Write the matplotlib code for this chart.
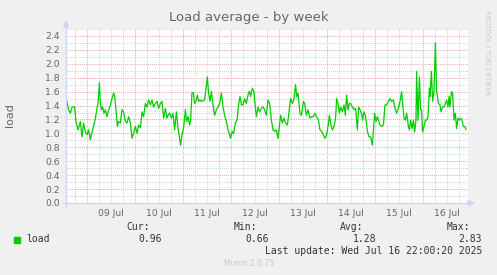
import matplotlib
matplotlib.use("Agg")
import matplotlib.pyplot as plt
from matplotlib.lines import Line2D
from matplotlib.patches import Rectangle, Polygon

# hours since Jul 8 14:00 and the load average
hours = [
    0.0, 0.8, 1.7, 2.5, 3.8, 4.5, 5.5, 6.7, 7.5, 8.3, 9.2, 10.0, 10.8, 11.7, 12.5, 13.3,
    14.2, 15.0, 15.5, 16.2, 16.7, 17.2, 17.8, 18.5, 19.2, 20.0, 20.8, 21.7, 22.5, 23.3,
    23.8, 24.5, 25.2, 25.8, 26.7, 27.5, 28.3, 29.2, 30.0, 30.8, 31.7, 32.5, 33.3, 34.2,
    35.0, 35.8, 36.7, 37.5, 38.3, 39.2, 40.0, 40.8, 41.7, 42.5, 43.3, 44.2, 45.0, 45.8,
    46.7, 47.5, 48.3, 49.2, 50.0,
    50.5, 51.3, 52.2, 53.0, 53.8, 54.7, 55.5, 56.3, 56.8, 57.5, 58.3, 59.2, 59.8, 60.5,
    61.3, 61.8, 62.5, 63.2, 63.8, 64.7, 65.2, 65.8, 66.5, 67.2, 68.8, 69.7, 70.2, 70.8,
    71.5, 72.2, 73.0, 73.8, 74.7, 75.5, 76.3, 77.2, 78.0, 78.8, 79.7, 80.5, 81.3, 81.8,
    82.5, 83.3, 84.2, 85.0, 85.8, 86.5, 87.2, 88.0, 88.8, 89.7, 90.5, 91.2, 91.8, 92.7,
    93.5, 94.2, 94.7, 95.5, 96.3, 97.2, 98.0, 98.8, 99.7, 100.5, 101.3, 102.2, 103.0,
    103.8, 104.7,
    105.5, 106.2, 106.8, 107.7, 108.5, 109.3, 110.2, 111.0, 111.8, 112.7, 113.5, 114.3,
    114.8, 115.5, 116.5, 117.2, 118.2, 118.8, 119.7, 120.5, 121.5, 122.3, 123.2, 124.0,
    124.8, 125.7, 126.5, 127.3, 128.2, 129.0, 129.8, 130.5, 131.2, 131.8, 132.7, 133.5,
    134.3, 134.8, 135.5, 136.2, 136.8, 137.7, 138.5, 139.2, 139.8, 140.5, 141.2, 141.8,
    142.7, 143.5, 144.3, 145.2, 145.8, 146.5, 147.2, 147.8, 148.5, 149.3, 150.2, 151.0,
    151.8, 152.7, 153.2, 153.8, 154.5, 155.2, 156.0,
    156.5, 157.3, 158.2, 159.0, 159.8, 160.7, 161.5, 162.3, 163.2, 164.0, 164.8, 165.7,
    166.5, 167.3, 167.8, 168.5, 169.2, 169.8, 170.7, 171.2, 171.8, 172.5, 173.2, 173.8,
    174.5, 174.8, 175.5, 176.2, 176.8, 177.3, 177.8, 178.5, 179.2, 179.8, 180.5, 181.2,
    181.5, 182.2, 182.8, 183.5, 184.2, 184.8, 185.7, 186.5, 187.0, 187.8, 188.5, 189.2,
    189.8, 190.5, 191.0, 191.5, 192.2, 192.8, 193.5, 194.2, 194.8, 195.5, 196.2, 196.8,
    197.5, 198.2, 198.8, 199.5,
]
load = [
    1.46, 1.34, 1.29, 1.38, 1.38, 1.17, 1.05, 1.17, 0.95, 1.15, 1.02, 0.98, 1.05, 0.91, 1.02, 1.10,
    1.22, 1.36, 1.43, 1.73, 1.43, 1.34, 1.38, 1.29, 1.34, 1.24, 1.34, 1.41, 1.50, 1.58,
    1.55, 1.34, 1.10, 1.17, 1.15, 1.34, 1.31, 1.17, 1.15, 1.24, 1.15, 0.93, 1.00, 1.10,
    1.00, 1.12, 1.08, 1.31, 1.24, 1.43, 1.38, 1.48, 1.41, 1.48, 1.38, 1.43, 1.46, 1.36,
    1.43, 1.46, 1.22, 1.36, 1.22,
    1.26, 1.29, 1.22, 1.29, 1.05, 1.31, 1.08, 0.93, 0.83, 0.98, 1.08, 1.34, 1.17, 1.24,
    1.12, 1.19, 1.58, 1.59, 1.43, 1.48, 1.55, 1.46, 1.48, 1.46, 1.48, 1.70, 1.81, 1.58,
    1.46, 1.60, 1.41, 1.26, 1.34, 1.38, 1.43, 1.58, 1.38, 1.26, 1.17, 1.05, 0.98, 0.93,
    1.03, 1.00, 1.15, 1.19, 1.41, 1.53, 1.41, 1.41, 1.50, 1.43, 1.55, 1.61, 1.53, 1.65,
    1.60, 1.36, 1.24, 1.38, 1.31, 1.36, 1.38, 1.34, 1.26, 1.48, 1.43, 1.19, 1.05,
    1.03, 1.05,
    0.93, 1.10, 1.26, 1.15, 1.22, 1.15, 1.12, 1.31, 1.50, 1.43, 1.50, 1.70,
    1.53, 1.58, 1.29, 1.26, 1.46, 1.43, 1.26, 1.34, 1.22, 1.24, 1.24, 1.29,
    1.24, 1.19, 1.05, 1.03, 0.98, 0.93, 0.98, 1.10, 1.26, 1.15, 1.05, 1.10,
    1.22, 1.50, 1.43, 1.29, 1.38, 1.31, 1.41, 1.26, 1.55, 1.34, 1.43, 1.43,
    1.38, 1.34, 1.36, 1.05, 1.38, 1.34, 1.29, 1.19, 1.31, 1.24, 1.03, 0.95,
    0.95, 0.83, 1.03, 1.29, 1.17, 1.24, 1.17,
    1.12, 1.10, 1.12, 1.41, 1.41, 1.46, 1.50, 1.46, 1.48, 1.36, 1.29, 1.36,
    1.46, 1.60, 1.43, 1.22, 1.19, 1.29, 1.10, 1.05, 1.19, 1.07, 1.19, 1.02,
    1.19, 1.89, 1.19, 1.81, 1.34, 1.34, 1.02, 1.10, 1.19, 1.19, 1.24, 1.65,
    1.53, 1.89, 1.46, 1.60, 2.30, 1.62, 1.43, 1.41, 1.31, 1.38, 1.38, 1.43,
    1.48, 1.38, 1.53, 1.38, 1.60, 1.58, 1.19, 1.29, 1.07, 1.22, 1.19, 1.22,
    1.19, 1.10, 1.10, 1.06,
]

day_labels = ["09 Jul", "10 Jul", "11 Jul", "12 Jul", "13 Jul", "14 Jul", "15 Jul", "16 Jul"]
stat_names = ["Cur:", "Min:", "Avg:", "Max:"]
stat_values = ["0.96", "0.66", "1.28", "2.83"]

W, H = 497, 275
FONT = "#666666"
AXIS = "#CFD6F8"


def fx(x):
    return x / W


def fy(y):
    return 1 - y / H


fig = plt.figure(figsize=(W / 100, H / 100), dpi=100, facecolor="#F0F0F0")
ax = fig.add_axes([fx(66), fy(203), (468 - 66) / W, (203 - 29) / H])
ax.set_facecolor("white")
ax.set_xlim(-0.5, 200.5)
ax.set_ylim(0, 2.5)
for s in ax.spines.values():
    s.set_visible(False)

# grid: minor gray dotted, major red dotted
dot = (0, (1, 1))
for k in range(34):
    h = 4 + 6 * k
    if h > 200:
        break
    if (h - 10) % 24 == 0:
        ax.axvline(h, color="#F0A8A8", lw=0.7, ls=dot, zorder=1)
    else:
        ax.axvline(h, color="#D4D4D4", lw=0.7, ls=dot, zorder=1)
for i in range(1, 26):
    v = i * 0.1
    if i % 2 == 0:
        ax.axhline(v, color="#F0A8A8", lw=0.7, ls=dot, zorder=1)
    else:
        ax.axhline(v, color="#D4D4D4", lw=0.7, ls=dot, zorder=1)

ax.plot(hours, load, color="#00CC00", lw=0.9, zorder=3)

ax.set_yticks([i * 0.2 for i in range(13)])
ax.set_yticklabels(["%.1f" % (i * 0.2) for i in range(13)])
ax.set_xticks([22 + 24 * k for k in range(len(day_labels))])
ax.set_xticklabels(day_labels)
ax.tick_params(axis="both", length=0, labelsize=6.7, labelcolor=FONT)
ax.tick_params(axis="y", pad=4.5)
ax.tick_params(axis="x", pad=4)

# axis lines with arrows
fig.add_artist(Line2D([fx(66), fx(66)], [fy(206), fy(26)], color=AXIS, lw=1))
fig.add_artist(Line2D([fx(63), fx(469)], [fy(203), fy(203)], color=AXIS, lw=1))
fig.add_artist(Polygon([(fx(63.5), fy(27)), (fx(68.5), fy(27)), (fx(66), fy(21))],
                       closed=True, color=AXIS, transform=fig.transFigure))
fig.add_artist(Polygon([(fx(468), fy(200.5)), (fx(468), fy(205.5)), (fx(474), fy(203))],
                       closed=True, color=AXIS, transform=fig.transFigure))

fig.text(0.5, fy(17), "Load average - by week", ha="center", va="center",
         fontsize=9.5, color=FONT)
fig.text(fx(9.5), fy(115), "load", rotation=90, ha="center", va="center",
         fontsize=8, color=FONT)
fig.text(fx(487), fy(53), "RRDTOOL / TOBI OETIKER", rotation=270, ha="center",
         va="center", fontsize=4.8, color="#C8C8C8")

# legend
mono = "DejaVu Sans Mono"
fig.add_artist(Rectangle((fx(14), fy(242.5)), 6 / W, 6 / H, color="#00CC00",
                         transform=fig.transFigure))
fig.text(fx(26), fy(239.5), "load", ha="left", va="center", family=mono,
         fontsize=7, color="#333333")
name_right = [150, 257, 363, 470]
value_right = [162, 269, 376, 482]
for name, val, nx, vx in zip(stat_names, stat_values, name_right, value_right):
    fig.text(fx(nx), fy(227.5), name, ha="right", va="center", family=mono,
             fontsize=7, color="#333333")
    fig.text(fx(vx), fy(239.5), val, ha="right", va="center", family=mono,
             fontsize=7, color="#333333")
fig.text(fx(482), fy(251.5), "Last update: Wed Jul 16 22:00:20 2025", ha="right",
         va="center", family=mono, fontsize=7, color="#333333")
fig.text(0.5, fy(264), "Munin 2.0.75", ha="center", va="center", fontsize=5.5,
         color="#C8C8C8")

fig.savefig("out.png", dpi=100, facecolor=fig.get_facecolor())
